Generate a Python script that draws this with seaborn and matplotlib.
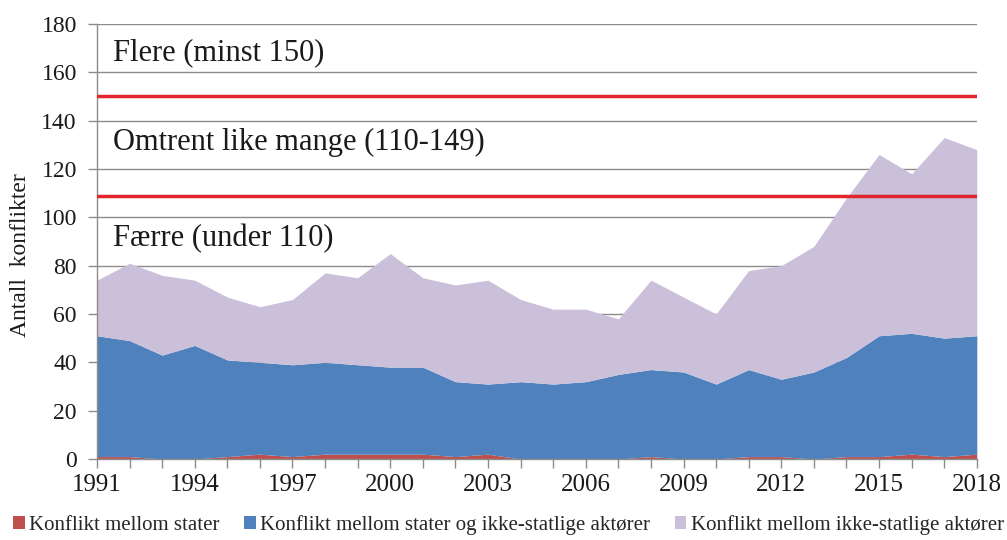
import matplotlib
matplotlib.use("Agg")
from matplotlib import pyplot as plt
from matplotlib.patches import Patch
import numpy as np
import pandas as pd
import seaborn as sns

# data
years = list(range(1991, 2019))
mellom_stater = [1, 1, 0, 0, 1, 2, 1, 2, 2, 2, 2, 1, 2, 0, 0, 0, 0, 1, 0, 0, 1, 1, 0, 1, 1, 2, 1, 2]
stater_ikke_statlige = [50, 48, 43, 47, 40, 38, 38, 38, 37, 36, 36, 31, 29, 32, 31, 32, 35, 36, 36, 31, 36, 32, 36, 41, 50, 50, 49, 49]
ikke_statlige = [23, 32, 33, 27, 26, 23, 27, 37, 36, 47, 37, 40, 43, 34, 31, 30, 23, 37, 31, 29, 41, 47, 52, 66, 75, 66, 83, 77]

series_names = ["Konflikt mellom stater",
                "Konflikt mellom stater og ikke-statlige aktører",
                "Konflikt mellom ikke-statlige aktører"]
series_colors = ["#C0504D", "#4F81BD", "#CBC0DA"]

thresholds = [150, 109]
zone_labels = ["Flere (minst 150)", "Omtrent like mange (110-149)", "Færre (under 110)"]
zone_label_y = [168, 131, 91]

x_ticks = list(range(1991, 2019, 3))
y_ticks = list(range(0, 181, 20))

df = pd.DataFrame({"year": years, "a": mellom_stater, "b": stater_ikke_statlige, "c": ikke_statlige})

sns.set_theme(style="white")
plt.rcParams["font.family"] = ["Liberation Serif", "DejaVu Serif"]

fig, ax = plt.subplots(figsize=(10.07, 5.4), dpi=100)
fig.subplots_adjust(left=0.0963, right=0.970, top=0.9556, bottom=0.15)

ax.stackplot(df["year"], df["a"], df["b"], df["c"], colors=series_colors, linewidth=0, zorder=2)

for t in thresholds:
    ax.axhline(t, color="#E3262E", lw=2.5, zorder=3)

for lab, yy in zip(zone_labels, zone_label_y):
    ax.text(1991.5, yy, lab, fontsize=22, va="center", ha="left", color="#1a1a1a", zorder=4)

ax.set_xlim(1991, 2018)
ax.set_ylim(0, 180)
ax.set_yticks(y_ticks)
ax.set_xticks(x_ticks)
ax.set_xticks(years, minor=True)
ax.yaxis.grid(True, color="#8c8c8c", lw=1)
ax.set_axisbelow(True)
ax.tick_params(axis="both", which="both", direction="out", color="#8c8c8c", length=6.5, width=1, colors="#1a1a1a")
ax.tick_params(axis="x", which="both", bottom=True, color="#8c8c8c", labelsize=18, pad=4)
ax.tick_params(axis="y", left=True, color="#8c8c8c", labelsize=17, pad=8)
for s in ["top", "right"]:
    ax.spines[s].set_visible(False)
for s in ["left", "bottom"]:
    ax.spines[s].set_color("#8c8c8c")
    ax.spines[s].set_linewidth(1)

ax.set_ylabel("")
ax.set_xlabel("")
fig.text(21 / 1007, 1 - 255 / 540, "Antall  konflikter", rotation=90, fontsize=17,
         ha="center", va="center", color="#1a1a1a")

handles = [Patch(facecolor=c, edgecolor="none") for c in series_colors]
fig.legend(handles, series_names, loc="center", bbox_to_anchor=(0.505, 0.028), ncol=3, frameon=False,
           fontsize=15, handlelength=0.55, handleheight=0.55, handletextpad=0.2, columnspacing=1.2)

fig.savefig("out.png", dpi=100)
